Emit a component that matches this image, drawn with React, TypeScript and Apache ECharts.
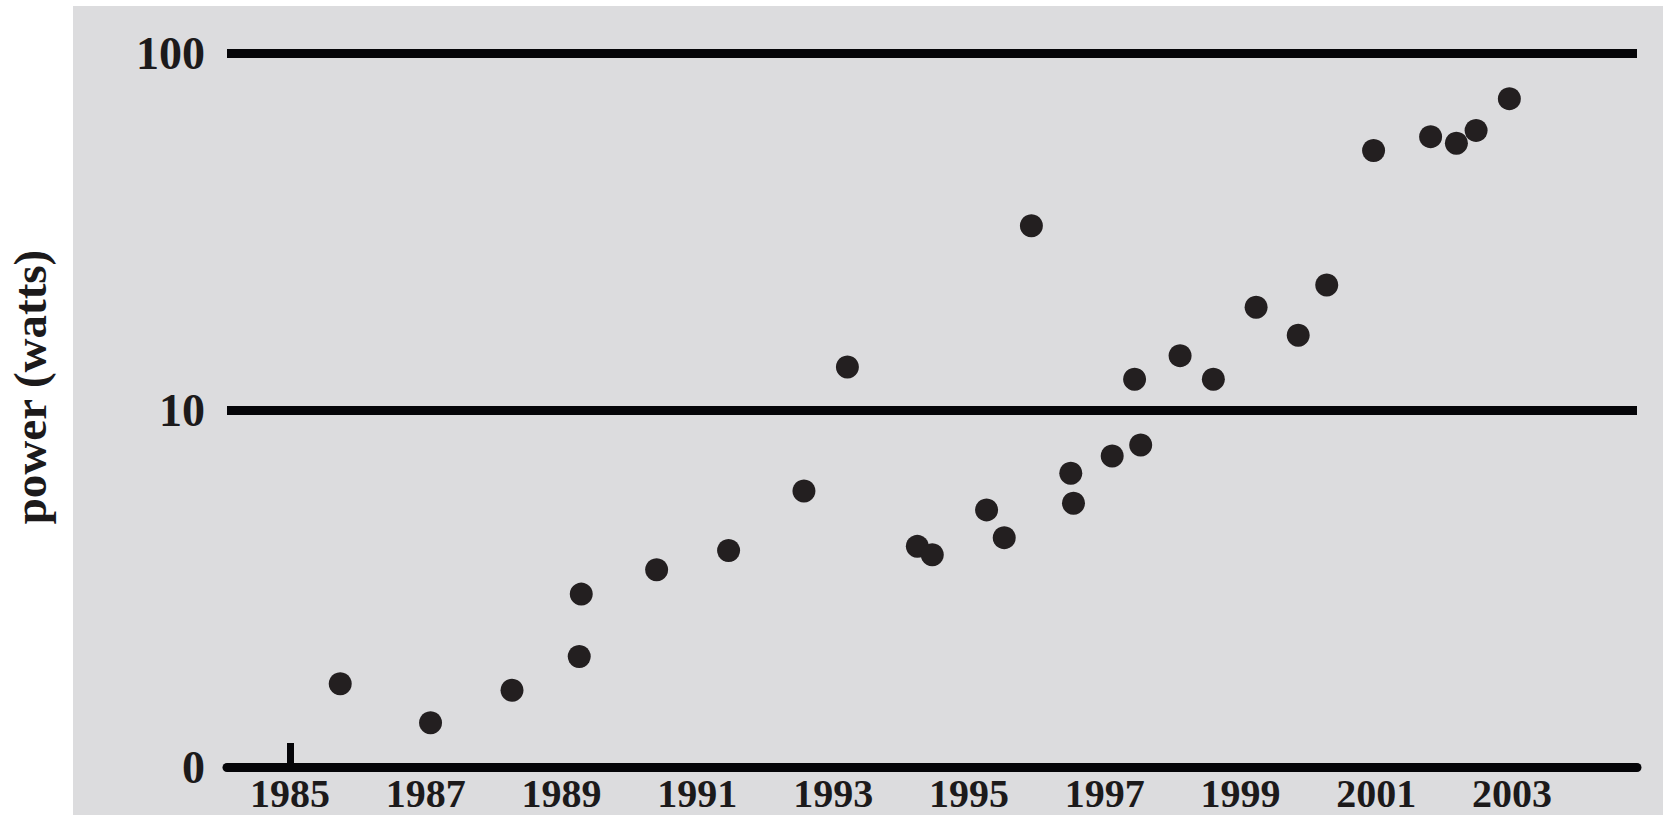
import React, { useEffect, useRef } from "react";
import * as echarts from "echarts";

const years = [
  1985.74, 1987.07, 1988.27, 1989.26, 1989.29, 1990.40, 1991.46, 1992.57, 1993.21,
  1994.24, 1994.46, 1995.26, 1995.52, 1995.92, 1996.50, 1996.54, 1997.11, 1997.44,
  1997.53, 1998.11, 1998.60, 1999.23, 1999.85, 2000.27, 2000.96, 2001.80, 2002.18,
  2002.47, 2002.96,
];
const watts = [
  1.71, 1.33, 1.64, 2.04, 3.05, 3.57, 4.04, 5.93, 13.2,
  4.15, 3.93, 5.25, 4.39, 32.8, 6.65, 5.48, 7.43, 12.2,
  7.98, 14.2, 12.2, 19.4, 16.2, 22.4, 53.3, 58.3, 55.9,
  60.7, 74.5,
];
const yearLabels = [1985, 1987, 1989, 1991, 1993, 1995, 1997, 1999, 2001, 2003];
const yearTicks = [1985];
const yTitle = "power (watts)";

export default function App() {
  const ref = useRef<HTMLDivElement>(null);
  useEffect(() => {
    if (!ref.current) return;
    const chart = echarts.init(ref.current, undefined, { renderer: "svg" });
    const font = "'Liberation Serif', 'Times New Roman', serif";
    chart.setOption({
      animation: false,
      backgroundColor: "#ffffff",
      graphic: [
        {
          type: "rect",
          z: -100,
          silent: true,
          shape: { x: 73, y: 6, width: 1600, height: 820 },
          style: { fill: "#dcdcde" },
        },
        {
          type: "text",
          x: 30,
          y: 387,
          rotation: Math.PI / 2,
          style: {
            text: yTitle,
            font: `bold 47px ${font}`,
            fill: "#1c1a1b",
            align: "center",
            verticalAlign: "middle",
          },
        },
      ],
      grid: { left: 227, right: 26, top: 53, bottom: 48, containLabel: false },
      xAxis: {
        type: "value",
        min: 1984.072,
        max: 2004.84,
        axisLine: { show: true, lineStyle: { color: "#050508", width: 9 } },
        axisTick: {
          show: true,
          inside: true,
          length: 24,
          customValues: yearTicks,
          lineStyle: { color: "#050508", width: 7 },
        },
        axisLabel: {
          customValues: yearLabels,
          margin: 6,
          color: "#1c1a1b",
          fontFamily: font,
          fontWeight: "bold",
          fontSize: 40,
          formatter: (v: number) => String(v),
        },
        splitLine: { show: false },
      },
      yAxis: {
        type: "log",
        logBase: 10,
        min: 1,
        max: 100,
        axisLine: { show: false },
        axisTick: { show: false },
        axisLabel: {
          margin: 22,
          color: "#1c1a1b",
          fontFamily: font,
          fontWeight: "bold",
          fontSize: 46,
          formatter: (v: number) => (v === 1 ? "0" : String(v)),
        },
        splitLine: { show: true, lineStyle: { color: "#050508", width: 9 } },
      },
      series: [
        {
          type: "scatter",
          data: years.map((y, i) => [y, watts[i]]),
          symbol: "circle",
          symbolSize: 23,
          itemStyle: { color: "#231f20", opacity: 1 },
        },
      ],
    });
    return () => chart.dispose();
  }, []);
  return (
    <div
      ref={ref}
      style={{ position: "absolute", left: 0, top: 0, width: 1663, height: 815 }}
    />
  );
}
